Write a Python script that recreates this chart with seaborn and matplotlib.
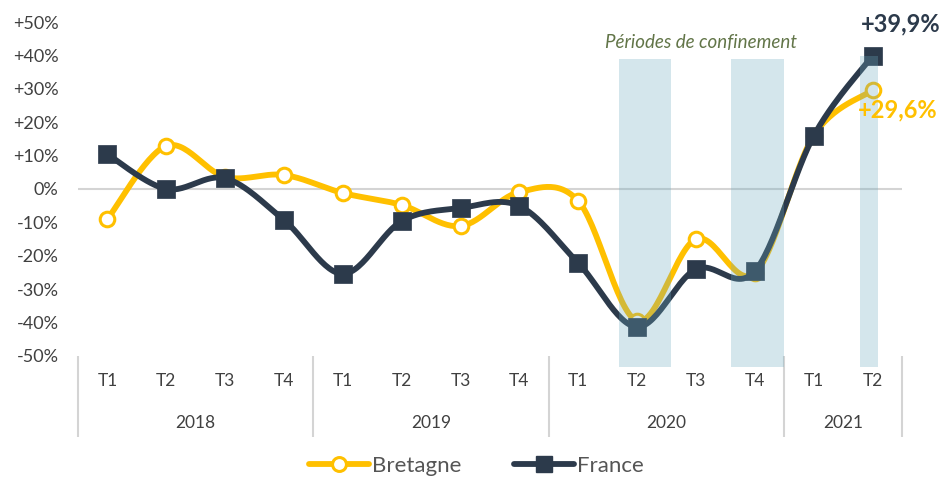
import numpy as np
import pandas as pd
import matplotlib
matplotlib.use("Agg")
import matplotlib.pyplot as plt
import matplotlib.transforms as mtransforms
from matplotlib.lines import Line2D
import seaborn as sns

# ---- data ----
years = ["2018", "2019", "2020", "2021"]
quarters_per_year = [4, 4, 4, 2]
quarter_labels = ["T1", "T2", "T3", "T4", "T1", "T2", "T3", "T4",
                  "T1", "T2", "T3", "T4", "T1", "T2"]
bretagne = [-9.0, 12.9, 3.6, 4.2, -1.2, -4.8, -11.1, -0.9,
            -3.6, -39.5, -15.0, -25.2, 16.0, 29.6]
france = [10.4, 0.0, 3.2, -9.3, -25.4, -9.6, -5.7, -5.1,
          -22.2, -41.3, -24.0, -24.6, 15.9, 39.9]
# confinement periods, in quarter units (start, end)
confinement_start = [8.70, 10.60, 12.78]
confinement_end = [9.57, 11.49, 13.10]
confinement_top = [38.9, 38.9, 39.8]
yticks = [-50, -40, -30, -20, -10, 0, 10, 20, 30, 40, 50]

YELLOW = "#FFC000"
DARK = "#2C3A4B"
GRID = "#D4D4D4"
TXT = "#404040"


def smooth(xs, ys, n=30):
    """Excel-like smoothed line (cubic Bezier / Catmull-Rom) through the points."""
    P = np.column_stack([xs, ys]).astype(float)
    out = []
    for i in range(len(P) - 1):
        p0 = P[i - 1] if i > 0 else P[i]
        p1 = P[i]
        p2 = P[i + 1]
        p3 = P[i + 2] if i + 2 < len(P) else P[i + 1]
        c1 = p1 + (p2 - p0) / 6.0
        c2 = p2 - (p3 - p1) / 6.0
        t = np.linspace(0, 1, n, endpoint=(i == len(P) - 2))[:, None]
        seg = ((1 - t) ** 3) * p1 + 3 * ((1 - t) ** 2) * t * c1 + 3 * (1 - t) * t ** 2 * c2 + t ** 3 * p2
        out.append(seg)
    out = np.vstack(out)
    return out[:, 0], out[:, 1]


sns.set_theme(style="white")
plt.rcParams["font.family"] = ["Lato", "DejaVu Sans"]

fig = plt.figure(figsize=(9.53, 4.79), dpi=100)
ax = fig.add_axes([78 / 953, 1 - 367 / 479, (902 - 78) / 953, 352 / 479])

xi = np.arange(len(quarter_labels))
ymin, ymax = -53.3, 52.1
ax.set_xlim(-0.5, len(xi) - 0.5)
ax.set_ylim(ymin, ymax)

# zero line
ax.axhline(0, color=GRID, lw=1.5, zorder=1)

# smoothed lines
bx, by = smooth(xi, bretagne)
fx, fy = smooth(xi, france)
df_b = pd.DataFrame({"x": bx, "y": by})
df_f = pd.DataFrame({"x": fx, "y": fy})
sns.lineplot(data=df_b, x="x", y="y", ax=ax, color=YELLOW, lw=4.2, sort=False,
             zorder=2, solid_capstyle="round")
sns.lineplot(data=df_f, x="x", y="y", ax=ax, color=DARK, lw=4.2, sort=False,
             zorder=3, solid_capstyle="round")

# markers
sns.scatterplot(x=xi, y=bretagne, ax=ax, marker="o", s=110, color="white",
                edgecolor=YELLOW, linewidth=2.2, zorder=4, clip_on=False)
sns.scatterplot(x=xi, y=france, ax=ax, marker="s", s=150, color=DARK,
                edgecolor=DARK, linewidth=0.5, zorder=5, clip_on=False)

# confinement periods (semi-transparent, over the lines)
for x0, x1, top in zip(confinement_start, confinement_end, confinement_top):
    ax.bar(x0, top - ymin, bottom=ymin, width=x1 - x0, align="edge",
           color="#6BA9BE", alpha=0.29, zorder=6, linewidth=0)

# y axis
ax.set_yticks(yticks)
ax.set_yticklabels([("+%d%%" % v) if v > 0 else ("%d%%" % v) for v in yticks],
                   fontsize=13, color=TXT)
ax.tick_params(axis="y", length=0, pad=14)
ax.set_xticks([])
ax.set_xlabel("")
ax.set_ylabel("")
for s in ax.spines.values():
    s.set_visible(False)

# category axis (two levels)
trans = mtransforms.blended_transform_factory(ax.transData, ax.transAxes)
def yfrac(py):
    return (367 - py) / 352.0

for x, lab in zip(xi, quarter_labels):
    ax.text(x, yfrac(381), lab, transform=trans, ha="center", va="center",
            fontsize=12.5, color=TXT)
start = 0
bounds = [-0.5]
for yr, n in zip(years, quarters_per_year):
    center = start + (n - 1) / 2.0
    ax.text(center, yfrac(423), yr, transform=trans, ha="center", va="center",
            fontsize=12.5, color=TXT)
    start += n
    bounds.append(start - 0.5)
ax.vlines(bounds, yfrac(437), yfrac(356), transform=trans, color=GRID, lw=1.5,
          clip_on=False)

# annotations
ax.text(13.47, 49.4, "+39,9%", ha="center", va="center", fontsize=17,
        fontweight="bold", color=DARK, zorder=8, clip_on=False)
ax.text(13.42, 23.7, "+29,6%", ha="center", va="center", fontsize=17,
        fontweight="bold", color=YELLOW, zorder=8, clip_on=False)
ax.text(10.08, 43.9, "Périodes de confinement", ha="center", va="center",
        fontsize=13.5, style="italic", color="#627548", zorder=8)

# legend
handles = [
    Line2D([0], [0], color=YELLOW, lw=4.2, marker="o", markersize=10,
           markerfacecolor="white", markeredgecolor=YELLOW, markeredgewidth=2.2),
    Line2D([0], [0], color=DARK, lw=4.2, marker="s", markersize=11,
           markerfacecolor=DARK, markeredgecolor=DARK),
]
leg = fig.legend(handles, ["Bretagne", "France"], loc="center",
                 bbox_to_anchor=(0.5, 1 - 466 / 479), ncol=2, frameon=False,
                 fontsize=16, handlelength=2.7, handletextpad=0.12,
                 columnspacing=2.4)
for t in leg.get_texts():
    t.set_color("#555555")

fig.savefig("out.png", dpi=100)
